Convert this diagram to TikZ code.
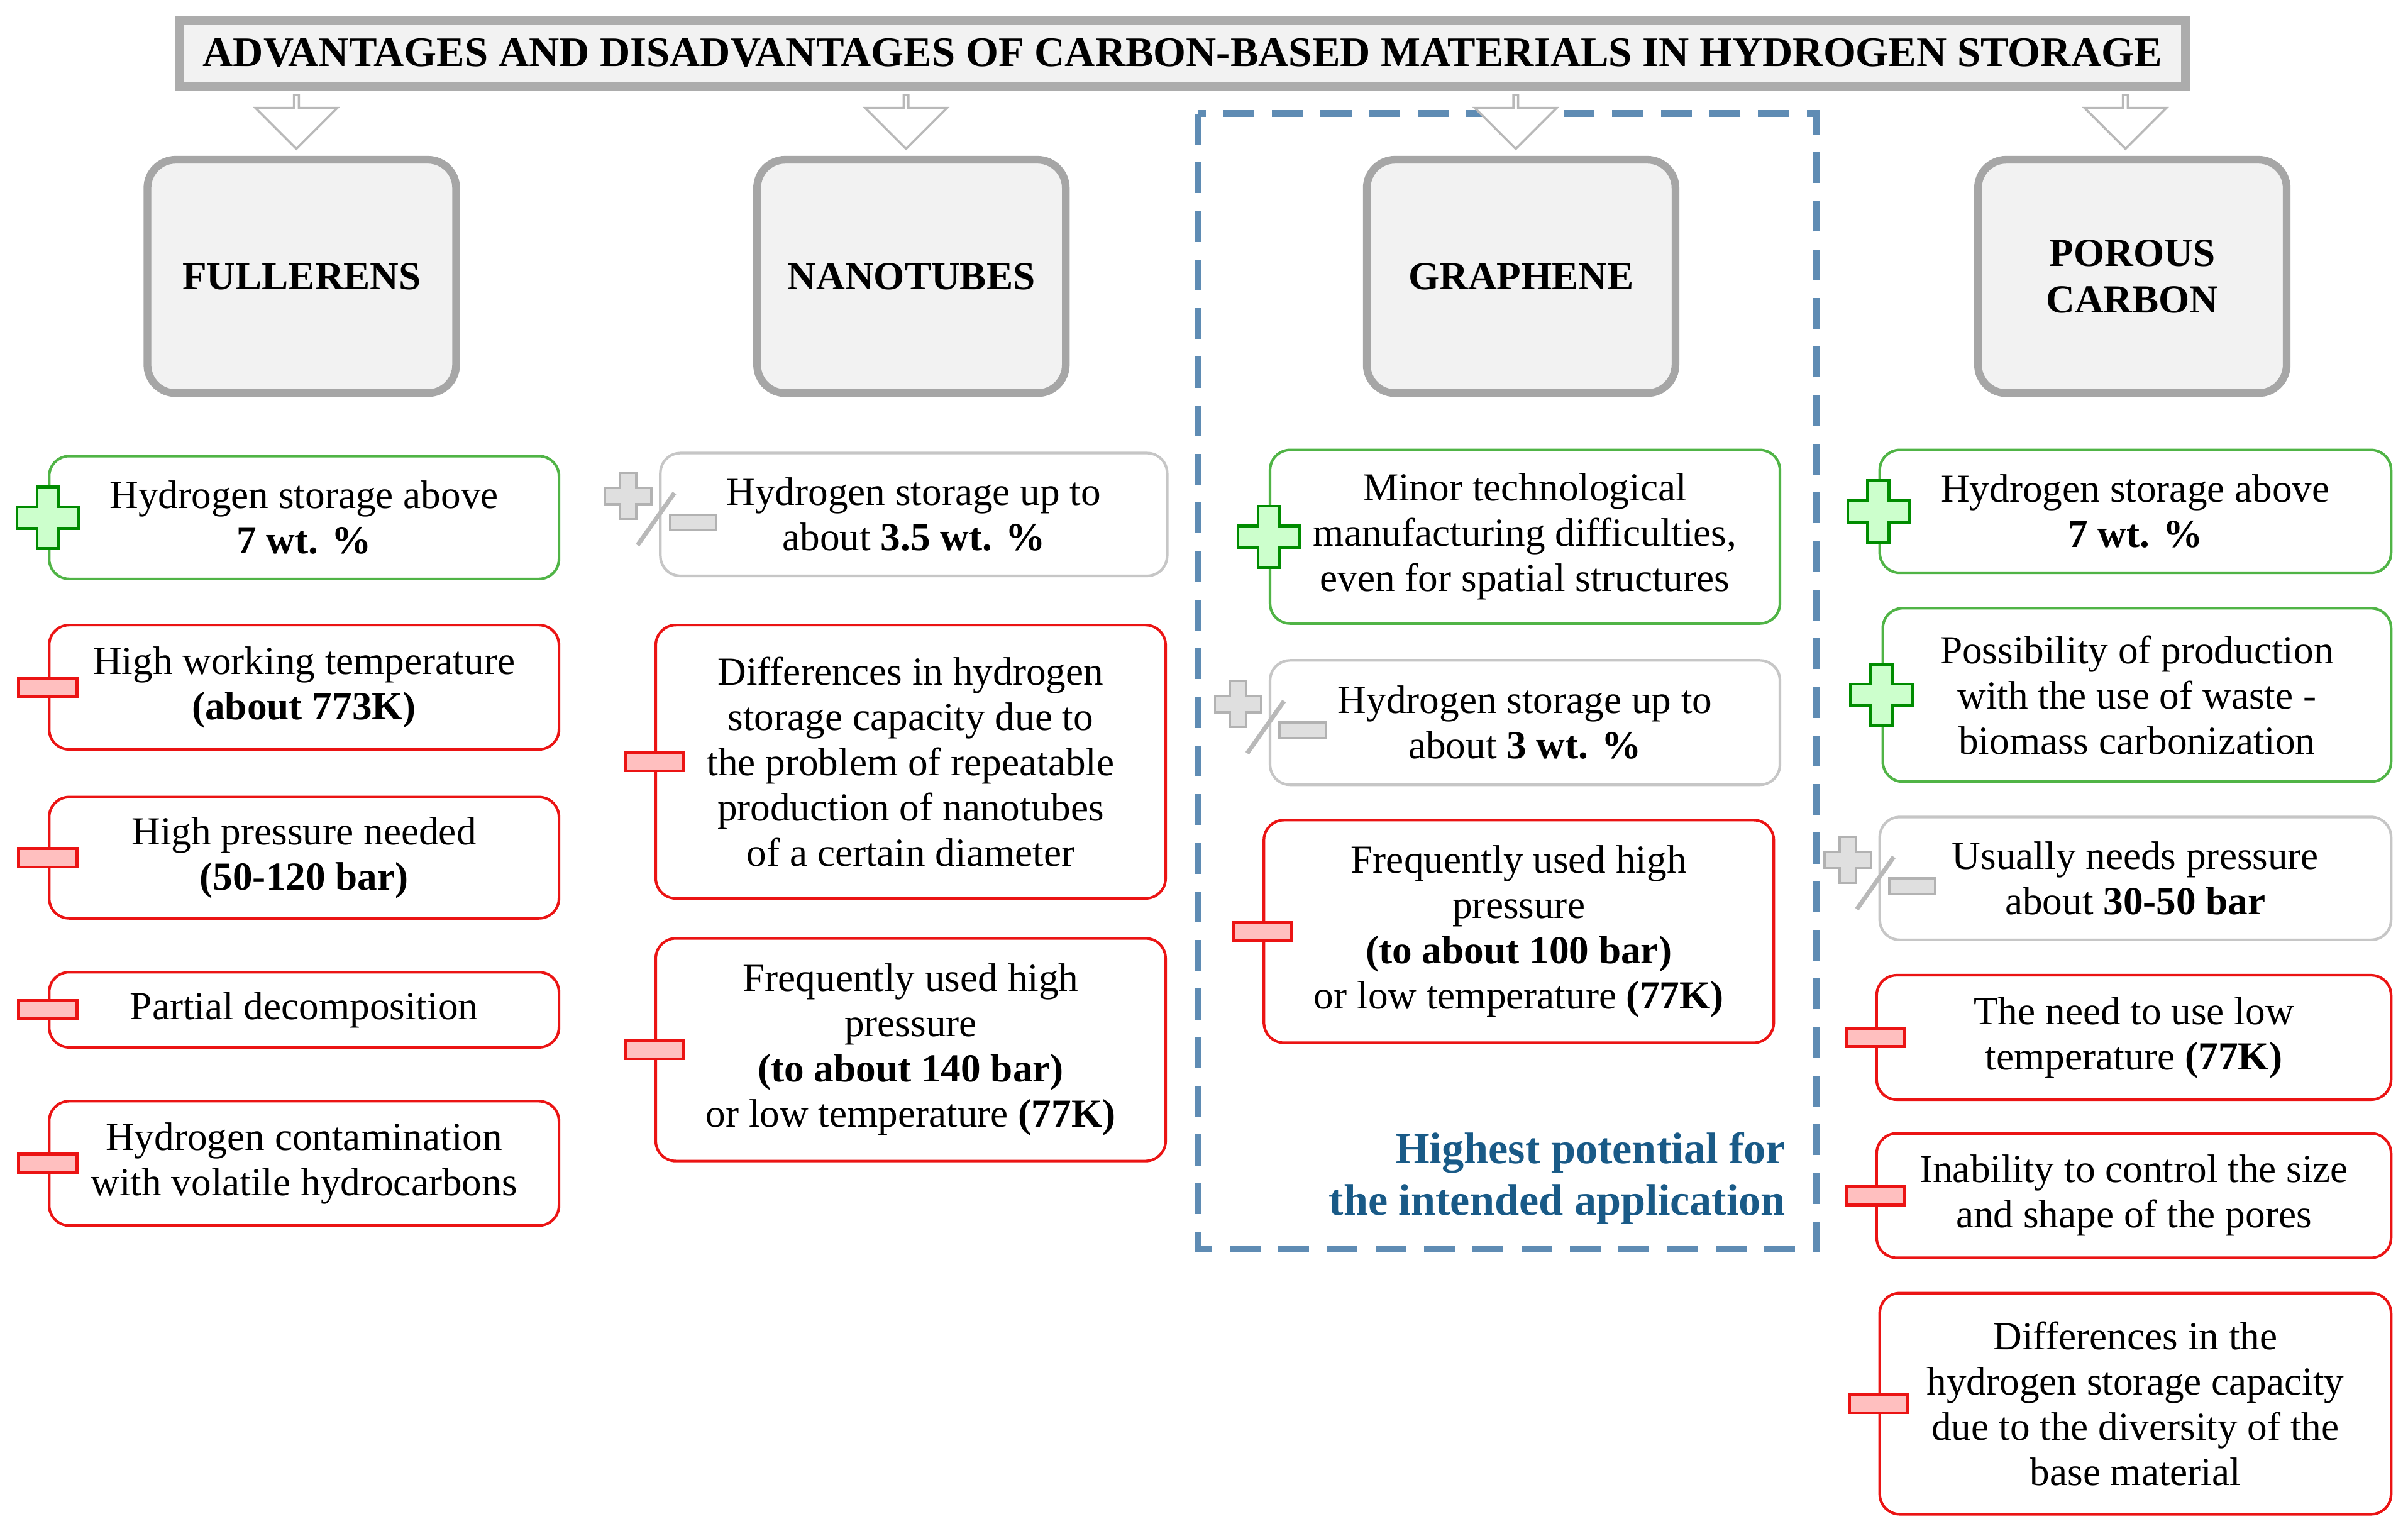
\documentclass[tikz,border=0pt]{standalone}
\usepackage{fontspec}
\setmainfont{Liberation Serif}
\usetikzlibrary{calc, shapes.arrows}

\definecolor{goodgreen}{RGB}{80,180,70}
\definecolor{badred}{RGB}{235,20,20}
\definecolor{dashblue}{RGB}{95,140,180}
\definecolor{textblue}{RGB}{25,90,135}

\tikzset{
	item/.style={draw, rounded corners=0.32cm, line width=1.2pt, fill=white, align=center,
		inner sep=2pt, font=\fontsize{18}{20.5}\selectfont},
	good/.style={item, draw=goodgreen},
	bad/.style={item, draw=badred},
	mixed/.style={item, draw=gray!45},
	category/.style={draw=gray!70, fill=gray!10, rounded corners=0.45cm, line width=3.5pt,
		align=center, font=\fontsize{18}{21}\selectfont\bfseries},
	downarrow/.style={single arrow, shape border rotate=270, draw=gray!55, fill=white, line width=1pt,
		minimum width=1.3cm, single arrow head extend=0.28cm, minimum height=0.86cm, inner sep=0pt}
}

% box from corner (x1,y1) to corner (x2,y2), in pixels of the picture
\newcommand{\itembox}[7]{%
	\node[#6, minimum width={(#4-#2)*0.02443cm}, minimum height={(#5-#3)*0.02443cm}]
		(#1) at ({(#2+#4)/2},{(#3+#5)/2}) {#7};}

\newcommand{\plussign}[2]{% at, size
	\draw[draw=green!55!black, fill=green!20, line width=1.3pt, shift={#1}, scale=#2]
		(-7,-20) -- (7,-20) -- (7,-7) -- (20,-7) -- (20,7) -- (7,7) -- (7,20) -- (-7,20) -- (-7,7)
		-- (-20,7) -- (-20,-7) -- (-7,-7) -- cycle;}
\newcommand{\minussign}[1]{%
	\draw[draw=badred, fill=red!25, line width=1.3pt, shift={#1}] (-19,-6) rectangle (19,6);}
\newcommand{\plusminus}[1]{%
	\draw[draw=gray!60, fill=gray!25, line width=1pt, shift={($#1+(-20,-12)$)}, scale=0.75]
		(-7,-20) -- (7,-20) -- (7,-7) -- (20,-7) -- (20,7) -- (7,7) -- (7,20) -- (-7,20) -- (-7,7)
		-- (-20,7) -- (-20,-7) -- (-7,-7) -- cycle;
	\draw[gray!55, line width=2pt] ($#1+(10,-14)$) -- ($#1+(-14,20)$);
	\draw[draw=gray!60, fill=gray!25, line width=1pt, shift={($#1+(22,5)$)}] (-15,-5) rectangle (15,5);}

\begin{document}
\begin{tikzpicture}[x=0.02443cm, y=-0.02443cm]
\useasboundingbox (0,0) rectangle (1568,1000);

% Frame of graphene
\draw[dashblue, line width=3pt, dash pattern=on 14pt off 8pt] (780,74) rectangle (1183,813);

% Title
\itembox{title}{117}{13}{1423}{56}{category, draw=gray!65, line width=4pt, rounded corners=0pt,
	font=\fontsize{19}{22}\selectfont\bfseries}
	{ADVANTAGES AND DISADVANTAGES OF CARBON-BASED MATERIALS IN HYDROGEN STORAGE}

% Categories
\itembox{fuller}{96}{104}{297}{256}{category}{FULLERENS}
\itembox{nano}{493}{104}{694}{256}{category}{NANOTUBES}
\itembox{graph}{890}{104}{1091}{256}{category}{GRAPHENE}
\itembox{porous}{1288}{104}{1489}{256}{category}{POROUS\\CARBON}

\foreach \cat/\x in {fuller/193, nano/590, graph/987, porous/1384}
	\node[downarrow, anchor=north] (arr-\cat) at (\x,61) {};

% Fullerens
\itembox{f1}{32}{297}{364}{377}{good}{Hydrogen storage above\\\textbf{7 wt. \%}}
\itembox{f2}{32}{407}{364}{488}{bad}{High working temperature\\\textbf{(about 773K)}}
\itembox{f3}{32}{519}{364}{598}{bad}{High pressure needed\\\textbf{(50-120 bar)}}
\itembox{f4}{32}{633}{364}{682}{bad}{Partial decomposition}
\itembox{f5}{32}{717}{364}{798}{bad}{Hydrogen contamination\\with volatile hydrocarbons}

% Nanotubes
\itembox{n1}{430}{295}{760}{375}{mixed}{Hydrogen storage up to\\about \textbf{3.5 wt. \%}}
\itembox{n2}{427}{407}{759}{585}{bad}{Differences in hydrogen\\storage capacity due to\\the problem of repeatable\\production of nanotubes\\of a certain diameter}
\itembox{n3}{427}{611}{759}{756}{bad}{Frequently used high\\pressure\\\textbf{(to about 140 bar)}\\or low temperature \textbf{(77K)}}

% Graphene
\itembox{g1}{827}{293}{1159}{406}{good}{Minor technological\\manufacturing difficulties,\\even for spatial structures}
\itembox{g2}{827}{430}{1159}{511}{mixed}{Hydrogen storage up to\\about \textbf{3 wt. \%}}
\itembox{g3}{823}{534}{1155}{679}{bad}{Frequently used high\\pressure\\\textbf{(to about 100 bar)}\\or low temperature \textbf{(77K)}}
\node[anchor=north east, align=right, text=textblue, inner sep=0pt,
	font=\fontsize{20}{23.5}\selectfont\bfseries] (note) at (1163,737)
	{Highest potential for\\the intended application};

% Porous carbon
\itembox{p1}{1224}{293}{1557}{373}{good}{Hydrogen storage above\\\textbf{7 wt. \%}}
\itembox{p2}{1226}{396}{1557}{509}{good}{Possibility of production\\with the use of waste -\\biomass carbonization}
\itembox{p3}{1224}{532}{1557}{612}{mixed}{Usually needs pressure\\about \textbf{30-50 bar}}
\itembox{p4}{1222}{635}{1557}{716}{bad}{The need to use low\\temperature \textbf{(77K)}}
\itembox{p5}{1222}{738}{1557}{819}{bad}{Inability to control the size\\and shape of the pores}
\itembox{p6}{1224}{842}{1557}{986}{bad}{Differences in the\\hydrogen storage capacity\\due to the diversity of the\\base material}

% Signs
\foreach \b in {f1, g1, p1, p2} {\plussign{(\b.west)}{1}}
\foreach \b in {f2, f3, f4, f5, n2, n3, g3, p4, p5, p6} {\minussign{(\b.west)}}
\foreach \b in {n1, g2, p3} {\plusminus{(\b.west)}}

\end{tikzpicture}
\end{document}
